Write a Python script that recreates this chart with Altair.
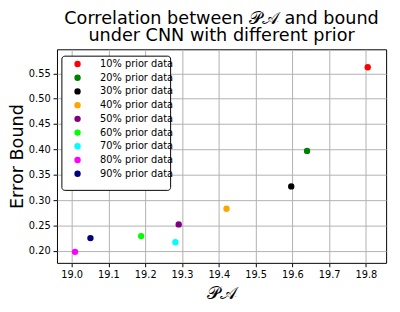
import altair as alt
import pandas as pd

labels = ["10% prior data", "20% prior data", "30% prior data", "40% prior data",
          "50% prior data", "60% prior data", "70% prior data", "80% prior data",
          "90% prior data"]
pa_values = [19.805, 19.640, 19.597, 19.421, 19.291, 19.189, 19.282, 19.009, 19.051]
bound_values = [0.562, 0.397, 0.327, 0.283, 0.252, 0.229, 0.217, 0.198, 0.225]
colors = ["#ff0000", "#008000", "#000000", "#ffa500", "#800080",
          "#00ff00", "#00ffff", "#ff00ff", "#000080"]
x_ticks = [19.0, 19.1, 19.2, 19.3, 19.4, 19.5, 19.6, 19.7, 19.8]
y_ticks = [0.20, 0.25, 0.30, 0.35, 0.40, 0.45, 0.50, 0.55]

df = pd.DataFrame({"label": labels, "pa": pa_values, "bound": bound_values})

FONT = "DejaVu Sans"

# legend frame (decoration only)
frame = alt.Chart(pd.DataFrame({"k": [0]})).mark_rect(
    fill="#ffffff", stroke="#000000", strokeWidth=1, cornerRadius=3
).encode(
    x=alt.value(5), x2=alt.value(116), y=alt.value(7), y2=alt.value(144)
)

points = alt.Chart(df).mark_circle(size=42, opacity=1).encode(
    x=alt.X("pa:Q",
            scale=alt.Scale(domain=[18.96, 19.855], nice=False, zero=False),
            axis=alt.Axis(values=x_ticks, format=".1f", title="𝒫𝒜",
                          titleFontSize=18, titleFont=FONT, titleFontWeight="normal",
                          titlePadding=5)),
    y=alt.Y("bound:Q",
            scale=alt.Scale(domain=[0.1762, 0.5974], nice=False, zero=False),
            axis=alt.Axis(values=y_ticks, format=".2f", title="Error Bound",
                          titleFontSize=18, titleFont=FONT, titleFontWeight="normal",
                          titlePadding=2)),
    color=alt.Color("label:N",
                    scale=alt.Scale(domain=labels, range=colors),
                    legend=alt.Legend(title=None, orient="none", legendX=5, legendY=3,
                                      padding=7, rowPadding=4, symbolSize=42,
                                      symbolType="circle", labelFontSize=10,
                                      labelFont=FONT, labelColor="#000000",
                                      labelOffset=18, symbolOffset=4,
                                      symbolStrokeWidth=0, labelLimit=200,
                                      columnPadding=0,
                                      strokeColor="transparent",
                                      fillColor="transparent")),
)

chart = alt.layer(frame, points).properties(
    width=336,
    height=218,
    title=alt.TitleParams(
        text=["Correlation between 𝒫𝒜 and bound", "under CNN with different prior"],
        fontSize=18, font=FONT, fontWeight="normal", color="#000000",
        anchor="middle", offset=4, lineHeight=18),
    autosize=alt.AutoSizeParams(type="none"),
    padding={"left": 50, "top": 39, "right": 6, "bottom": 47},
).configure_view(
    stroke="#000000", strokeWidth=1
).configure_axis(
    grid=True, gridColor="#b0b0b0", gridWidth=1, gridOpacity=1,
    domain=False, tickColor="#000000", tickSize=4, tickWidth=1,
    labelFont=FONT, labelFontSize=10, labelColor="#000000", labelPadding=3,
    titleColor="#000000",
)

chart.save("out.html", embed_options={"renderer": "svg", "actions": False})
